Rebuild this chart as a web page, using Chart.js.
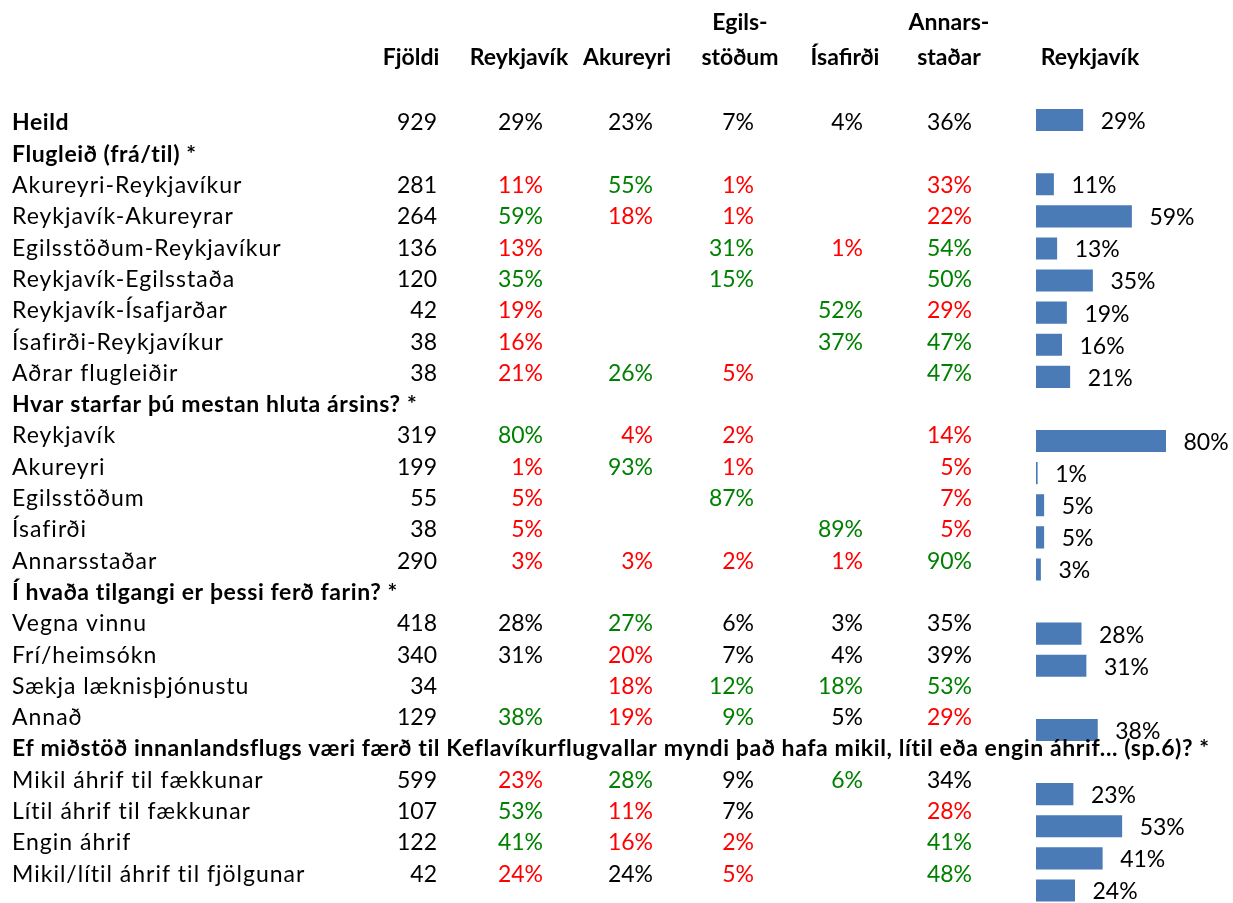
<!DOCTYPE html>
<html>
<head>
<meta charset="utf-8">
<script src="https://cdn.jsdelivr.net/npm/chart.js@4.4.1/dist/chart.umd.min.js"></script>
<style>
  html, body { margin: 0; padding: 0; background: #fff; overflow: hidden; }
  #wrap { width: 1233px; height: 912px; }
</style>
</head>
<body>
<div id="wrap"><canvas id="myChart" width="1233" height="912"></canvas></div>
<script>
// rows of the table (header rows have no count)
var rowLabels = [
  "Heild",
  "Flugleið (frá/til) *",
  "Akureyri-Reykjavíkur",
  "Reykjavík-Akureyrar",
  "Egilsstöðum-Reykjavíkur",
  "Reykjavík-Egilsstaða",
  "Reykjavík-Ísafjarðar",
  "Ísafirði-Reykjavíkur",
  "Aðrar flugleiðir",
  "Hvar starfar þú mestan hluta ársins? *",
  "Reykjavík",
  "Akureyri",
  "Egilsstöðum",
  "Ísafirði",
  "Annarsstaðar",
  "Í hvaða tilgangi er þessi ferð farin? *",
  "Vegna vinnu",
  "Frí/heimsókn",
  "Sækja læknisþjónustu",
  "Annað",
  "Ef miðstöð innanlandsflugs væri færð til Keflavíkurflugvallar myndi það hafa mikil, lítil eða engin áhrif... (sp.6)? *",
  "Mikil áhrif til fækkunar",
  "Lítil áhrif til fækkunar",
  "Engin áhrif",
  "Mikil/lítil áhrif til fjölgunar"
];

var columnHeaders = [
  ["Fjöldi"],
  ["Reykjavík"],
  ["Akureyri"],
  ["Egils-", "stöðum"],
  ["Ísafirði"],
  ["Annars-", "staðar"],
  ["Reykjavík"]
];

var fjoldi       = [929, null, 281, 264, 136, 120, 42, 38, 38, null, 319, 199, 55, 38, 290, null, 418, 340, 34, 129, null, 599, 107, 122, 42];
var reykjavik    = [29, null, 11, 59, 13, 35, 19, 16, 21, null, 80, 1, 5, 5, 3, null, 28, 31, null, 38, null, 23, 53, 41, 24];
var akureyri     = [23, null, 55, 18, null, null, null, null, 26, null, 4, 93, null, null, 3, null, 27, 20, 18, 19, null, 28, 11, 16, 24];
var egilsstodum  = [7, null, 1, 1, 31, 15, null, null, 5, null, 2, 1, 87, null, 2, null, 6, 7, 12, 9, null, 9, 7, 2, 5];
var isafirdi     = [4, null, null, null, 1, null, 52, 37, null, null, null, null, null, 89, 1, null, 3, 4, 18, 5, null, 6, null, null, null];
var annarsstadar = [36, null, 33, 22, 54, 50, 29, 47, 47, null, 14, 5, 7, 5, 90, null, 35, 39, 53, 29, null, 34, 28, 41, 48];

// significance per cell (Reykjavík, Akureyri, Egilsstöðum, Ísafirði, Annarsstaðar):
// h = higher, l = lower, n = no difference, . = empty
var significance = [
  "nnnnn", ".....", "lhl.l", "hll.l", "l.hlh", "h.h.h", "l..hl", "l..hh", "lhl.h",
  ".....", "hll.l", "lhl.l", "l.h.l", "l..hl", "llllh",
  ".....", "nhnnn", "nlnnn", ".lhhh", "hlhnl",
  ".....", "lhnhn", "hln.l", "hll.h", "lnl.h"
];

var FONT = "Lato";
var fontSize = 23;
var sigColor = { h: "#008000", l: "#ff0000", n: "#000000" };

var tablePlugin = {
  id: "tableText",
  afterDraw: function(chart) {
    var ctx = chart.ctx;
    var cols = [fjoldi, reykjavik, akureyri, egilsstodum, isafirdi, annarsstadar];
    var colRight = [437, 543, 653, 754, 863, 972];
    var headCenter = [411, 519, 627, 740, 845, 949, 1090];
    var rowTop = 123, rowStep = 31.3;

    ctx.save();
    ctx.textBaseline = "middle";

    // column headers
    ctx.fillStyle = "#000";
    ctx.font = "bold " + fontSize + "px " + FONT;
    ctx.textAlign = "center";
    columnHeaders.forEach(function(lines, c) {
      var y = lines.length === 2 ? 23 : 58;
      lines.forEach(function(t, k) { ctx.fillText(t, headCenter[c], y + k * 35); });
    });

    rowLabels.forEach(function(label, i) {
      var y = rowTop + i * rowStep;
      var bold = fjoldi[i] === null || i === 0;
      ctx.textAlign = "left";
      ctx.fillStyle = "#000";
      ctx.font = (bold ? "bold " : "") + fontSize + "px " + FONT;
      ctx.letterSpacing = bold ? "0.6px" : "1px";
      ctx.fillText(label, 12, y);
      ctx.letterSpacing = "0px";

      ctx.font = fontSize + "px " + FONT;
      ctx.textAlign = "right";
      cols.forEach(function(arr, c) {
        var v = arr[i];
        if (v === null) return;
        if (c === 0) {
          ctx.fillStyle = "#000";
          ctx.fillText(String(v), colRight[c], y);
        } else {
          ctx.fillStyle = sigColor[significance[i].charAt(c - 1)] || "#000";
          ctx.fillText(v + "%", colRight[c], y);
        }
      });
    });

    // labels next to the bars
    var meta = chart.getDatasetMeta(0);
    ctx.fillStyle = "#000";
    ctx.textAlign = "left";
    ctx.font = fontSize + "px " + FONT;
    meta.data.forEach(function(el, i) {
      var v = reykjavik[i];
      if (v === null) return;
      ctx.fillText(v + "%", el.x + 17.5, el.y + 1.5);
    });
    ctx.restore();
  }
};

var ctx = document.getElementById("myChart").getContext("2d");
var myNewChart = new Chart(ctx, {
  type: "bar",
  data: {
    labels: rowLabels,
    datasets: [{
      label: "Reykjavík",
      data: reykjavik,
      backgroundColor: "#4a7bb7",
      borderWidth: 0,
      barPercentage: 0.69,
      categoryPercentage: 1
    }]
  },
  options: {
    indexAxis: "y",
    responsive: false,
    animation: false,
    devicePixelRatio: 1,
    layout: { padding: { left: 1036, right: 34.5, top: 104, bottom: 5.5 } },
    scales: {
      x: { display: false, min: 0, max: 100 },
      y: { display: false }
    },
    plugins: {
      legend: { display: false },
      tooltip: { enabled: false }
    }
  },
  plugins: [tablePlugin]
});
</script>
</body>
</html>
